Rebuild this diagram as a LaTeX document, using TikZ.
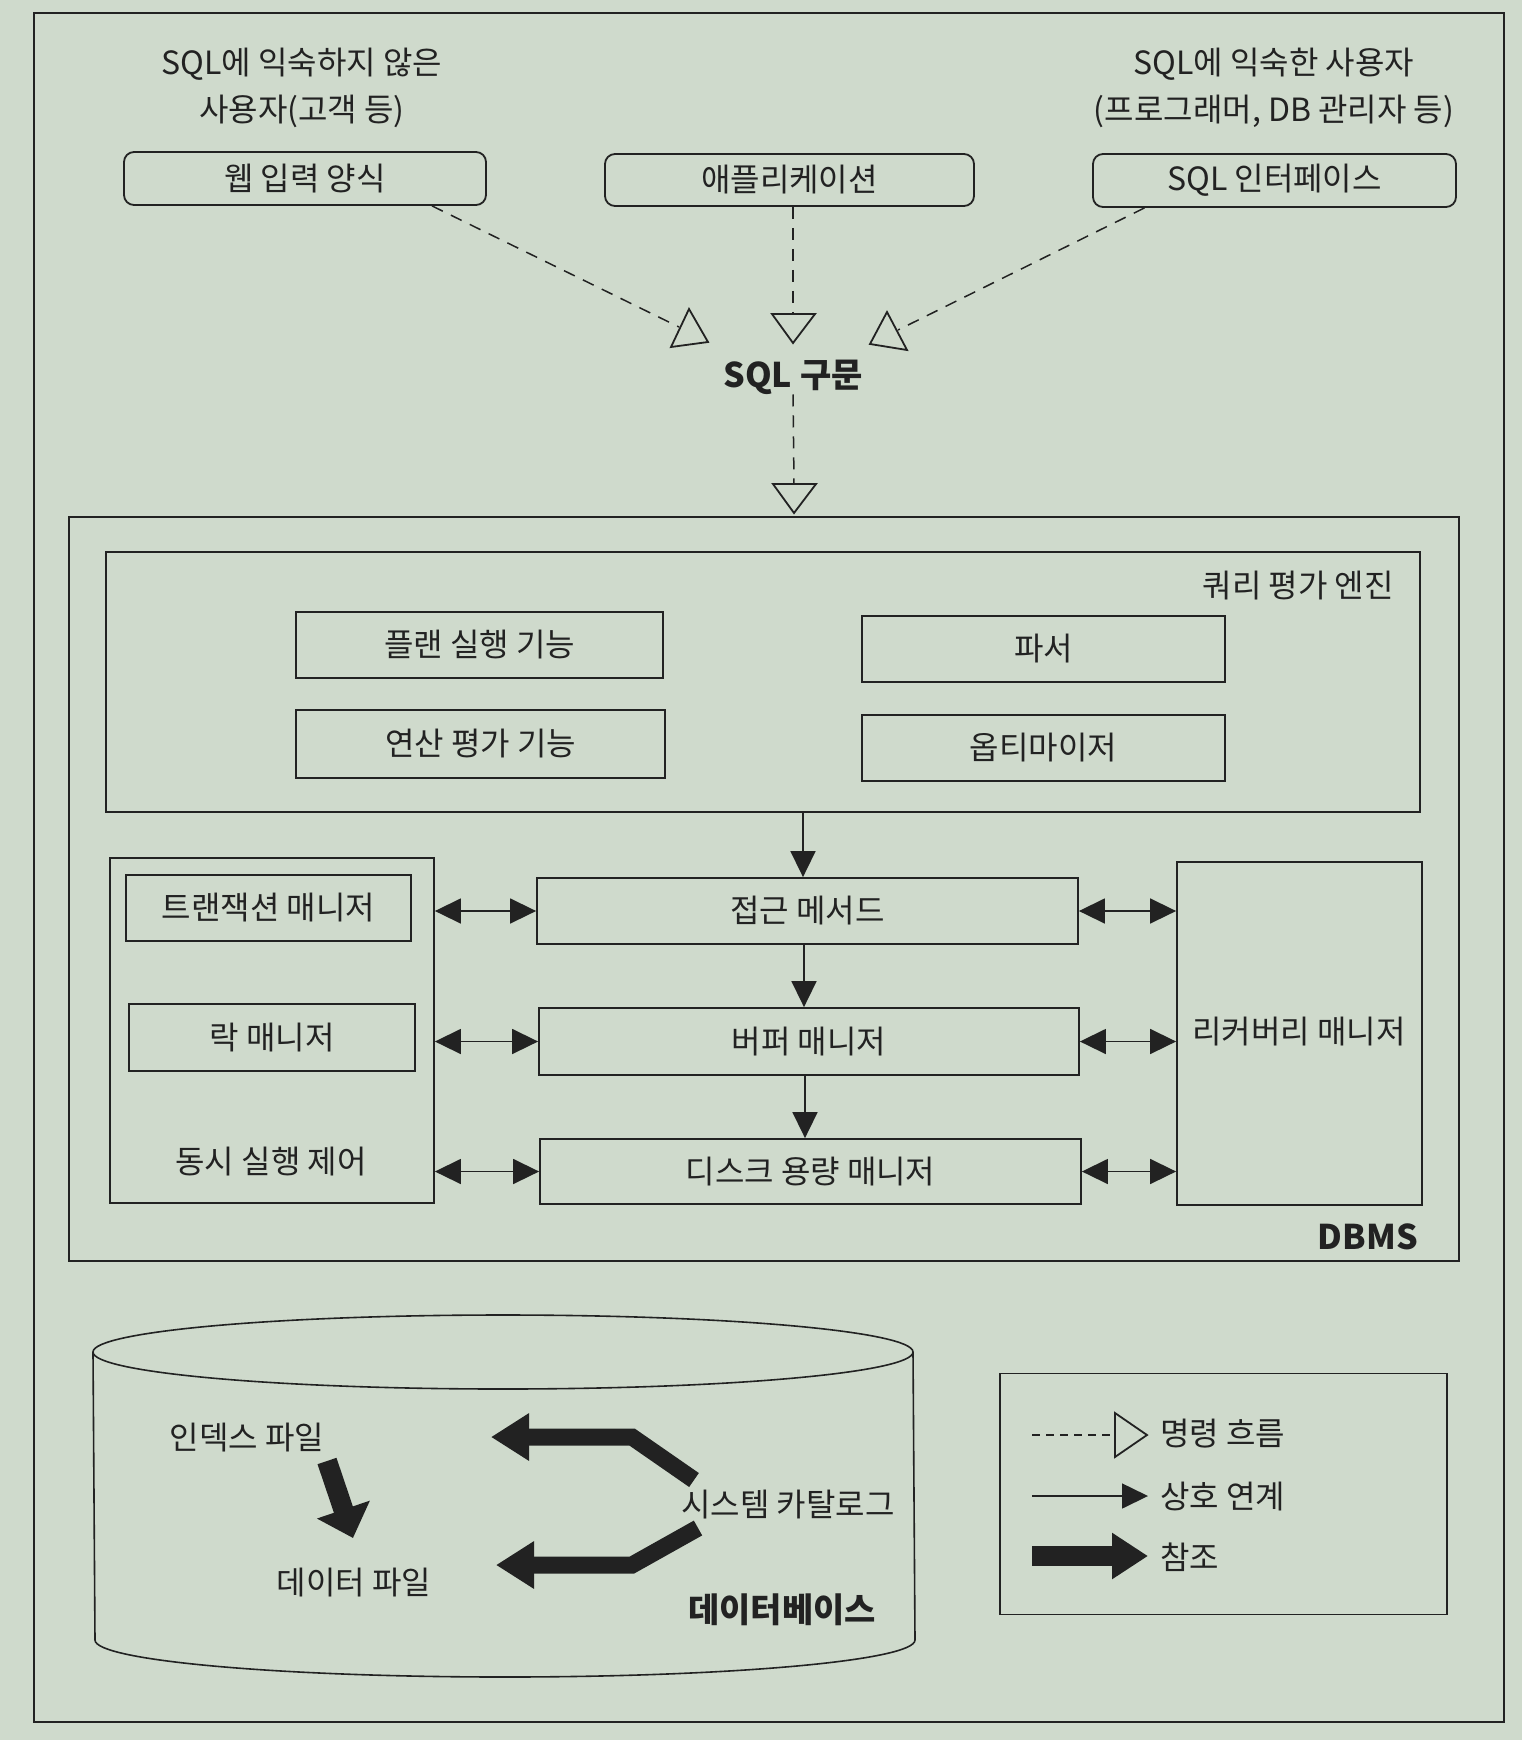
\documentclass[tikz,border=0pt]{standalone}
\usepackage{fontspec}
\setmainfont{Noto Sans CJK KR}
\usetikzlibrary{arrows.meta,calc}
\definecolor{bg}{HTML}{CFDACC}
\definecolor{ink}{HTML}{222222}
\begin{document}
\begin{tikzpicture}[x=1pt,y=-1pt,
  font=\fontsize{32}{47}\selectfont, text=ink,
  box/.style={draw=ink, line width=1.8pt, rectangle, inner sep=0pt},
  rbox/.style={box, rounded corners=10pt},
  lbl/.style={inner sep=0pt, align=center},
  boldlbl/.style={lbl, font=\fontsize{34}{40}\selectfont\bfseries},
  flow/.style={draw=ink, line width=1.5pt, dash pattern=on 12pt off 9pt},
  tri/.style={draw=ink, line width=1.8pt, fill=bg, line join=miter},
  link/.style={draw=ink, line width=1.6pt, -{Triangle[length=26pt,width=25pt]}},
  dlink/.style={draw=ink, line width=1.6pt, {Triangle[length=26pt,width=25pt]}-{Triangle[length=26pt,width=25pt]}},
  refarrow/.style={draw=ink, line width=17pt, line join=miter, -{Triangle[length=38pt,width=45pt]}}
]
% background and frame
\fill[bg] (0,0) rectangle (1522,1740);
\draw[ink, line width=1.8pt] (34,13) rectangle (1504,1722);

% users
\node[lbl] (novice) at (302,88) {SQL에 익숙하지 않은\\사용자(고객 등)};
\node[lbl] (expert) at (1274,88) {SQL에 익숙한 사용자\\(프로그래머, DB 관리자 등)};

% input boxes
\node[rbox, minimum width=362pt, minimum height=53pt] (web) at (305,178.5) {웹 입력 양식};
\node[rbox, minimum width=369pt, minimum height=52pt] (app) at (789.5,180) {애플리케이션};
\node[rbox, minimum width=363pt, minimum height=53pt] (sqli) at (1274.5,180.5) {SQL 인터페이스};

% SQL statement
\node[boldlbl] (sql) at (793,377) {SQL 구문};

% command flow connectors
\coordinate (tl) at (679,327);
\coordinate (tc) at (793,314);
\coordinate (tr) at (898,330);
\coordinate (tb) at (794,484);
\draw[flow] ([xshift=127pt]web.south) -- (tl);
\draw[flow] (app.south -| tc) -- (tc);
\draw[flow] ([xshift=-130pt]sqli.south) -- (tr);
\draw[flow] (sql.south) -- (tb);
\draw[tri] (689,309) -- (671,347) -- (708,342) -- cycle;
\draw[tri] (772,314) -- (815,314) -- (793,343) -- cycle;
\draw[tri] (887,312) -- (870,344) -- (907,350) -- cycle;
\draw[tri] (773,484) -- (816,484) -- (794,513) -- cycle;

% DBMS
\node[box, minimum width=1390pt, minimum height=744pt] (dbms) at (764,889) {};
\node[boldlbl, anchor=east] (dbmsl) at (1418,1237) {DBMS};

% query evaluation engine
\node[box, minimum width=1314pt, minimum height=260pt] (engine) at (763,682) {};
\node[lbl, anchor=east] (enginel) at (1394,586) {쿼리 평가 엔진};
\node[box, minimum width=367pt, minimum height=66pt] (plan) at (479.5,645) {플랜 실행 기능};
\node[box, minimum width=369pt, minimum height=68pt] (eval) at (480.5,744) {연산 평가 기능};
\node[box, minimum width=363pt, minimum height=66pt] (parser) at (1043.5,649) {파서};
\node[box, minimum width=363pt, minimum height=66pt] (opt) at (1043.5,748) {옵티마이저};

% managers
\node[box, minimum width=541pt, minimum height=66pt] (access) at (807.5,911) {접근 메서드};
\node[box, minimum width=540pt, minimum height=67pt] (buffer) at (809,1041.5) {버퍼 매니저};
\node[box, minimum width=541pt, minimum height=65pt] (disk) at (810.5,1171.5) {디스크 용량 매니저};

\node[box, minimum width=324pt, minimum height=345pt] (conc) at (272,1030.5) {};
\node[box, minimum width=285pt, minimum height=66pt] (txn) at (268.5,908) {트랜잭션 매니저};
\node[box, minimum width=286pt, minimum height=67pt] (lock) at (272,1037.5) {락 매니저};
\node[lbl] (concl) at (271,1162) {동시 실행 제어};

\node[box, minimum width=245pt, minimum height=343pt] (recov) at (1299.5,1033.5) {};
\node[lbl] (recovl) at (1299,1032) {리커버리 매니저};

% interaction connectors
\draw[link] (engine.south -| 803,0) -- (access.north -| 803,0);
\draw[link] (access.south -| 804,0) -- (buffer.north -| 804,0);
\draw[link] (buffer.south -| 805,0) -- (disk.north -| 805,0);
\draw[dlink] (access.west -| conc.east) -- (access.west);
\draw[dlink] (buffer.west -| conc.east) -- (buffer.west);
\draw[dlink] (disk.west -| conc.east) -- (disk.west);
\draw[dlink] (access.east) -- (access.east -| recov.west);
\draw[dlink] (buffer.east) -- (buffer.east -| recov.west);
\draw[dlink] (disk.east) -- (disk.east -| recov.west);

% database cylinder
\draw[ink, line width=1.6pt] (503,1352) ellipse [x radius=410pt, y radius=37pt];
\draw[ink, line width=1.6pt] (93,1352) -- (95,1640) arc[start angle=180, end angle=360, x radius=410pt, y radius=37pt] -- (913,1352);
\node[lbl] (index) at (247,1438) {인덱스 파일};
\node[lbl] (data) at (354,1583) {데이터 파일};
\node[lbl] (catalog) at (788,1505) {시스템 카탈로그};
\node[boldlbl] (dbl) at (782,1610) {데이터베이스};

% reference arrows
\coordinate (r1s) at (327,1461);
\coordinate (r1e) at (353,1538);
\draw[refarrow, line width=20pt, -{Triangle[length=30pt,width=54pt]}] (r1s) -- (r1e);
\coordinate (r2s) at (694,1480);
\coordinate (r2m) at (632,1437);
\coordinate (r2e) at (491,1437);
\draw[refarrow] (r2s) -- (r2m) -- (r2e);
\coordinate (r3s) at (698,1528);
\coordinate (r3m) at (632,1565);
\coordinate (r3e) at (496,1565);
\draw[refarrow] (r3s) -- (r3m) -- (r3e);

% legend
\node[box, minimum width=447pt, minimum height=241pt] (legend) at (1223.5,1494) {};
\coordinate (l1a) at (1032,1435);
\coordinate (l1b) at (1115,1435);
\draw[draw=ink, line width=1.3pt, dash pattern=on 8pt off 6pt] (l1a) -- (l1b);
\draw[tri] (1115,1413) -- (1147,1435) -- (1115,1457) -- cycle;
\node[lbl, anchor=west] (lg1) at (1160,1434) {명령 흐름};
\coordinate (l2a) at (1032,1496);
\coordinate (l2b) at (1148,1496);
\draw[link] (l2a) -- (l2b);
\node[lbl, anchor=west] (lg2) at (1160,1496) {상호 연계};
\coordinate (l3a) at (1032,1556);
\coordinate (l3b) at (1148,1556);
\draw[refarrow, line width=20pt, -{Triangle[length=36pt,width=44pt]}] (l3a) -- (l3b);
\node[lbl, anchor=west] (lg3) at (1160,1557) {참조};
\end{tikzpicture}
\end{document}
